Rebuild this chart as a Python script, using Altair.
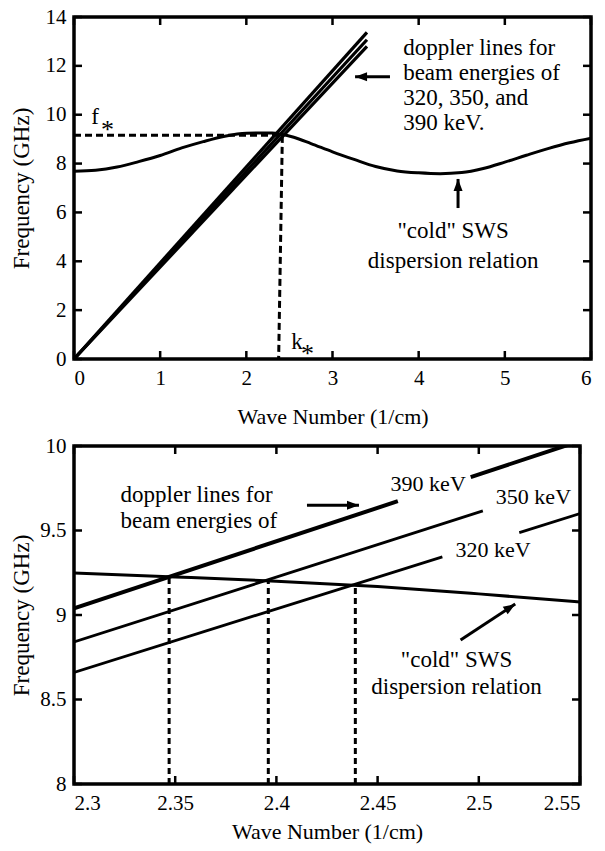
import math

import altair as alt
import numpy as np
import pandas as pd

FONT = "Liberation Serif"

# ---------------- full view: 0 - 6 1/cm ----------------
# "cold" slow-wave-structure dispersion relation
sws_k = [0.0, 0.25, 0.5, 0.75, 1.0, 1.25, 1.5, 1.75, 2.0, 2.2, 2.3, 2.4, 2.55,
         2.75, 3.0, 3.25, 3.5, 3.75, 4.0, 4.25, 4.5, 4.75, 5.0, 5.25, 5.5, 5.75, 6.0]
sws_f = [7.69, 7.73, 7.86, 8.08, 8.33, 8.64, 8.90, 9.12, 9.24, 9.25, 9.248, 9.20, 9.077,
         8.82, 8.48, 8.17, 7.88, 7.70, 7.62, 7.585, 7.63, 7.80, 8.06, 8.34, 8.61, 8.85, 9.04]

energies = ["390 keV", "350 keV", "320 keV"]
# doppler lines start at the origin and stop at k = 3.40
doppler_k_end = 3.40
doppler_f_end = [13.37, 13.07, 12.80]

# operating point (k*, f*)
f_star = 9.16
k_star_top = 2.418
k_star_bottom = 2.375

# ---------------- zoomed view: 2.30 - 2.55 1/cm ----------------
sws_zoom_k = [2.30, 2.35, 2.40, 2.45, 2.50, 2.55]
sws_zoom_f = [9.248, 9.225, 9.20, 9.168, 9.125, 9.077]

zoom_k_start, zoom_k_stop = 2.30, 2.55
doppler_zoom_f_start = [9.04, 8.84, 8.66]
doppler_zoom_f_stop = [10.03, 9.80, 9.60]
# stretch of each line left open around its label
label_gaps = [(2.460, 2.496), (2.502, 2.55), (2.482, 2.520)]

# intersections of each doppler line with the dispersion curve
cross_k = [2.347, 2.396, 2.439]
cross_f = [9.226, 9.209, 9.183]

W1, H1 = 517, 342
W2, H2 = 506, 338
X1, Y1 = [0, 6], [0, 14]
X2, Y2 = [2.30, 2.55], [8, 10]
x1_ticks = [0, 1, 2, 3, 4, 5, 6]
y1_ticks = [0, 2, 4, 6, 8, 10, 12, 14]
x2_ticks = [2.3, 2.35, 2.4, 2.45, 2.5, 2.55]
y2_ticks = [8, 8.5, 9, 9.5, 10]

TICK = 8
ARROW_HEAD = "M0,0L-0.75,2L0.75,2Z"


def x_axis(values, title, title_pad):
    return alt.Axis(values=values, title=title, format="~g", ticks=False, domain=False,
                    grid=False, labelPadding=8, titlePadding=title_pad, labelFont=FONT,
                    labelFontSize=21, titleFont=FONT, titleFontSize=22,
                    titleFontWeight="normal", labelColor="black", titleColor="black",
                    minExtent=29, maxExtent=29, labelOverlap=False)


def y_axis(values, title):
    return alt.Axis(values=values, title=title, format="~g", ticks=False, domain=False,
                    grid=False, labelPadding=8, titlePadding=5, labelFont=FONT,
                    labelFontSize=21, titleFont=FONT, titleFontSize=23,
                    titleFontWeight="normal", labelColor="black", titleColor="black",
                    minExtent=36, maxExtent=36, labelOverlap=False)


def tick_layers(xt, yt, xs, ys, w, h):
    tx = pd.DataFrame({"v": xt})
    ty = pd.DataFrame({"v": yt})
    rule = dict(color="black", strokeWidth=2.5)
    return [
        alt.Chart(tx).mark_rule(**rule).encode(x=alt.X("v:Q", scale=xs), y=alt.value(h), y2=alt.value(h - TICK)),
        alt.Chart(tx).mark_rule(**rule).encode(x=alt.X("v:Q", scale=xs), y=alt.value(0), y2=alt.value(TICK)),
        alt.Chart(ty).mark_rule(**rule).encode(y=alt.Y("v:Q", scale=ys), x=alt.value(0), x2=alt.value(TICK)),
        alt.Chart(ty).mark_rule(**rule).encode(y=alt.Y("v:Q", scale=ys), x=alt.value(w), x2=alt.value(w - TICK)),
    ]


def arrow_layers(df, xs, ys):
    shaft = alt.Chart(df).mark_rule(color="black", strokeWidth=3).encode(
        x=alt.X("k0:Q", scale=xs), y=alt.Y("f0:Q", scale=ys), x2="k1:Q", y2="f1:Q")
    head = alt.Chart(df).mark_point(shape=ARROW_HEAD, filled=True, size=144, color="black",
                                    opacity=1, strokeWidth=0).encode(
        x=alt.X("k1:Q", scale=xs), y=alt.Y("f1:Q", scale=ys),
        angle=alt.Angle("ang:Q", scale=None))
    return [shaft, head]


def head_angle(k0, f0, k1, f1, px_k, px_f):
    dx = (k1 - k0) * px_k
    dy = (f1 - f0) * px_f
    return (math.degrees(math.atan2(dx, dy)) + 360) % 360


def text_layer(df, xs, ys, align, size=23, dy=0):
    return alt.Chart(df).mark_text(align=align, baseline="middle", font=FONT,
                                   fontSize=size, color="black", dy=dy).encode(
        x=alt.X("k:Q", scale=xs), y=alt.Y("f:Q", scale=ys), text="t:N")


# ================= top panel =================
xs1 = alt.Scale(domain=X1, nice=False, zero=False)
ys1 = alt.Scale(domain=Y1, nice=False, zero=False)

sws_df = pd.DataFrame({"k": sws_k, "f": sws_f})
dop_rows = []
for e, fe in zip(energies, doppler_f_end):
    dop_rows += [{"e": e, "k": 0.0, "f": 0.0}, {"e": e, "k": doppler_k_end, "f": fe}]
dop_df = pd.DataFrame(dop_rows)

star_df = pd.DataFrame({"i": [0, 1, 2], "k": [0.0, k_star_top, k_star_bottom],
                        "f": [f_star, f_star, 0.0]})

px1_k, px1_f = W1 / (X1[1] - X1[0]), H1 / (Y1[1] - Y1[0])
arr1 = pd.DataFrame({"k0": [3.667, 4.457], "f0": [11.55, 6.18],
                     "k1": [3.262, 4.457], "f1": [11.55, 7.37]})
arr1["ang"] = [head_angle(a, b, c, d, px1_k, px1_f)
               for a, b, c, d in zip(arr1.k0, arr1.f0, arr1.k1, arr1.f1)]

note1 = pd.DataFrame({"t": ["doppler lines for", "beam energies of", "320, 350, and", "390 keV."],
                      "k": [3.82] * 4, "f": [12.73, 11.71, 10.69, 9.66]})
cold1 = pd.DataFrame({"t": ['"cold" SWS', "dispersion relation"],
                      "k": [4.40, 4.40], "f": [5.24, 4.01]})
sym1 = pd.DataFrame({"t": ["f", "k"], "k": [0.20, 2.52], "f": [9.90, 0.70]})
sub1 = pd.DataFrame({"t": ["*", "*"], "k": [0.39, 2.71], "f": [9.62, 0.45]})

top_layers = [
    alt.Chart(sws_df).mark_line(color="black", strokeWidth=3, interpolate="monotone").encode(
        x=alt.X("k:Q", scale=xs1, axis=x_axis(x1_ticks, "Wave Number (1/cm)", 18)),
        y=alt.Y("f:Q", scale=ys1, axis=y_axis(y1_ticks, "Frequency (GHz)"))),
    alt.Chart(dop_df).mark_line(color="black", strokeWidth=3.2).encode(
        x=alt.X("k:Q", scale=xs1), y=alt.Y("f:Q", scale=ys1), detail="e:N"),
    alt.Chart(star_df).mark_line(color="black", strokeWidth=3, strokeDash=[7, 4]).encode(
        x=alt.X("k:Q", scale=xs1), y=alt.Y("f:Q", scale=ys1), order="i:Q"),
    *tick_layers(x1_ticks, y1_ticks, xs1, ys1, W1, H1),
    *arrow_layers(arr1, xs1, ys1),
    text_layer(note1, xs1, ys1, "left"),
    text_layer(cold1, xs1, ys1, "center"),
    text_layer(sym1, xs1, ys1, "left"),
    text_layer(sub1, xs1, ys1, "center", size=26, dy=6),
]
top = alt.layer(*top_layers).properties(width=W1, height=H1)

# ================= bottom panel =================
xs2 = alt.Scale(domain=X2, nice=False, zero=False)
ys2 = alt.Scale(domain=Y2, nice=False, zero=False)

sws2_df = pd.DataFrame({"k": sws_zoom_k, "f": sws_zoom_f})

seg_rows = []
for e, f0, f1, (g0, g1) in zip(energies, doppler_zoom_f_start, doppler_zoom_f_stop, label_gaps):
    ends = [zoom_k_start, zoom_k_stop]
    pieces = [(zoom_k_start, g0), (g1, zoom_k_stop)]
    for j, (a, b) in enumerate(pieces):
        if b - a <= 1e-9:
            continue
        for kk in (a, b):
            seg_rows.append({"seg": f"{e}-{j}", "e": e, "k": kk,
                             "f": float(np.interp(kk, ends, [f0, f1]))})
seg_df = pd.DataFrame(seg_rows)
width_df = pd.DataFrame({"e": energies, "w": [4.0, 2.8, 2.8]})

drop_rows = []
for i, (kc, fc) in enumerate(zip(cross_k, cross_f)):
    drop_rows += [{"d": i, "k": kc, "f": Y2[0]}, {"d": i, "k": kc, "f": fc}]
drop_df = pd.DataFrame(drop_rows)

px2_k, px2_f = W2 / (X2[1] - X2[0]), H2 / (Y2[1] - Y2[0])
arr2 = pd.DataFrame({"k0": [2.4151, 2.491], "f0": [9.65, 8.852],
                     "k1": [2.4408, 2.518], "f1": [9.65, 9.065]})
arr2["ang"] = [head_angle(a, b, c, d, px2_k, px2_f)
               for a, b, c, d in zip(arr2.k0, arr2.f0, arr2.k1, arr2.f1)]

note2 = pd.DataFrame({"t": ["doppler lines for", "beam energies of"],
                      "k": [2.323, 2.323], "f": [9.71, 9.556]})
cold2 = pd.DataFrame({"t": ['"cold" SWS', "dispersion relation"],
                      "k": [2.489, 2.489], "f": [8.734, 8.574]})
elabels = pd.DataFrame({"t": energies, "k": [2.475, 2.527, 2.507], "f": [9.775, 9.70, 9.385]})

bottom_layers = [
    alt.Chart(sws2_df).mark_line(color="black", strokeWidth=3, interpolate="monotone").encode(
        x=alt.X("k:Q", scale=xs2, axis=x_axis(x2_ticks, "Wave Number (1/cm)", 8)),
        y=alt.Y("f:Q", scale=ys2, axis=y_axis(y2_ticks, "Frequency (GHz)"))),
    alt.Chart(seg_df).transform_lookup(lookup="e", from_=alt.LookupData(width_df, "e", ["w"])).mark_line(
        color="black", clip=True).encode(
        x=alt.X("k:Q", scale=xs2), y=alt.Y("f:Q", scale=ys2), detail="seg:N",
        strokeWidth=alt.StrokeWidth("w:Q", scale=None)),
    alt.Chart(drop_df).mark_line(color="black", strokeWidth=3, strokeDash=[6, 4]).encode(
        x=alt.X("k:Q", scale=xs2), y=alt.Y("f:Q", scale=ys2), detail="d:N"),
    *tick_layers(x2_ticks, y2_ticks, xs2, ys2, W2, H2),
    *arrow_layers(arr2, xs2, ys2),
    text_layer(note2, xs2, ys2, "left"),
    text_layer(cold2, xs2, ys2, "center"),
    text_layer(elabels, xs2, ys2, "center", size=22),
]
bottom = alt.layer(*bottom_layers).properties(width=W2, height=H2)

chart = alt.vconcat(top, bottom, spacing=4).properties(
    padding={"left": 8, "top": 4, "right": 4, "bottom": 4},
    background="white",
).configure_view(stroke="black", strokeWidth=3.5).configure_concat(
    spacing=4
).configure_axis(labelFont=FONT, titleFont=FONT).configure_text(font=FONT)

chart.save("out.html", embed_options={"renderer": "svg", "actions": False})
